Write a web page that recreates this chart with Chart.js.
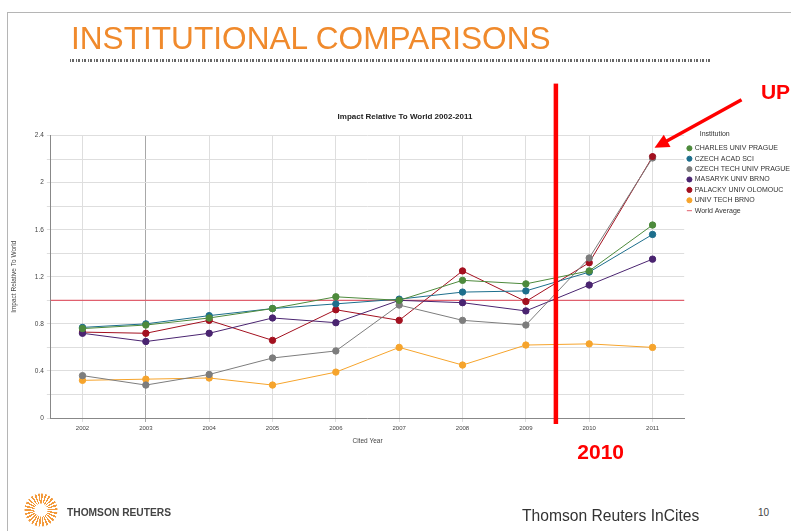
<!DOCTYPE html>
<html>
<head>
<meta charset="utf-8">
<script src="https://cdn.jsdelivr.net/npm/chart.js@4"></script>
<style>
  html, body { margin: 0; padding: 0; width: 791px; height: 531px; overflow: hidden; background: #fff; }
  #frame { position: absolute; left: 7px; top: 12px; width: 800px; height: 540px; border-left: 1px solid #b5b5b5; border-top: 1px solid #b5b5b5; }
  #heading { position: absolute; left: 71px; top: 21px; font-family: "Liberation Sans", Arial, sans-serif; font-size: 31px; color: #f08a2c; white-space: nowrap; transform-origin: left top; transform: scaleX(1.02); }
  #dots { position: absolute; left: 70px; top: 59px; width: 642px; height: 3px; background: repeating-linear-gradient(90deg, #666 0 1px, transparent 1px 2px, #666 2px 4px, transparent 4px 6px); }
  #wrap { position: absolute; left: 0; top: 0; width: 800px; height: 480px; }
  #logo { position: absolute; left: 24px; top: 493px; width: 34px; height: 34px; border-radius: 50%;
          background: repeating-conic-gradient(#f39a3c 0 7deg, transparent 7deg 14deg);
          -webkit-mask: radial-gradient(circle, transparent 0 6px, #000 7px 16px, transparent 17px);
          mask: radial-gradient(circle, transparent 0 6px, #000 7px 16px, transparent 17px); }
  #brand { position: absolute; left: 67px; top: 506px; font-family: "Liberation Sans", Arial, sans-serif; font-weight: bold; font-size: 11px; color: #444; transform-origin: left top; transform: scaleX(0.93); }
  #incites { position: absolute; left: 522px; top: 506px; font-family: "Liberation Sans", Arial, sans-serif; font-size: 17px; color: #333; transform-origin: left top; transform: scaleX(0.92); }
  #page { position: absolute; left: 758px; top: 507px; font-family: "Liberation Sans", Arial, sans-serif; font-size: 10px; color: #444; }
</style>
</head>
<body>
<div id="frame"></div>
<div id="heading">INSTITUTIONAL COMPARISONS</div>
<div id="dots"></div>
<div id="wrap"><canvas id="line-chart"></canvas></div>
<div id="logo"></div>
<div id="brand">THOMSON REUTERS</div>
<div id="incites">Thomson Reuters InCites</div>
<div id="page">10</div>
<script>
// Dati
var years = ['2002', '2003', '2004', '2005', '2006', '2007', '2008', '2009', '2010', '2011'];
var charlesUniv = [0.76, 0.79, 0.85, 0.93, 1.03, 1.00, 1.17, 1.14, 1.25, 1.64];
var czechAcad = [0.77, 0.80, 0.87, 0.93, 0.97, 1.01, 1.07, 1.08, 1.24, 1.56];
var czechTech = [0.36, 0.28, 0.37, 0.51, 0.57, 0.96, 0.83, 0.79, 1.36, 2.21];
var masaryk = [0.72, 0.65, 0.72, 0.85, 0.81, 1.00, 0.98, 0.91, 1.13, 1.35];
var palacky = [0.73, 0.72, 0.83, 0.66, 0.92, 0.83, 1.25, 0.99, 1.32, 2.22];
var brnoTech = [0.32, 0.33, 0.34, 0.28, 0.39, 0.60, 0.45, 0.62, 0.63, 0.60];
var worldAverage = 1;
var yTicks = [0, 0.4, 0.8, 1.2, 1.6, 2, 2.4];
var markYear = 7.47;   // posizione della barra rossa (tra 2009 e 2010)

var font = 'Liberation Sans';

function serie(label, data, colore) {
    return {
        label: label,
        data: data,
        borderColor: colore,
        backgroundColor: colore,
        pointBackgroundColor: colore,
        pointBorderColor: colore,
        pointRadius: 3.2,
        pointStyle: 'circle',
        borderWidth: 1,
        tension: 0
    };
}

// Linea media mondiale + annotazioni rosse
var extras = {
    id: 'extras',
    beforeDatasetsDraw: function (chart) {
        var ctx = chart.ctx, a = chart.chartArea;
        var y = chart.scales.y.getPixelForValue(worldAverage);
        ctx.save();
        ctx.strokeStyle = '#e0606e';
        ctx.lineWidth = 1.2;
        ctx.beginPath();
        ctx.moveTo(a.left, y);
        ctx.lineTo(a.right, y);
        ctx.stroke();
        ctx.restore();
    },
    afterDraw: function (chart) {
        var ctx = chart.ctx, a = chart.chartArea;
        var x = chart.scales.x.getPixelForValue(markYear);
        var last = years.length - 1;
        var px = chart.scales.x.getPixelForValue(last);
        var py = chart.scales.y.getPixelForValue(palacky[last]);
        ctx.save();
        // punto Palacky sopra quello grigio
        ctx.fillStyle = '#a3101f';
        ctx.beginPath();
        ctx.arc(px, py, 3.2, 0, Math.PI * 2);
        ctx.fill();
        ctx.fillStyle = '#ff0000';
        ctx.fillRect(x - 2, a.top - 52, 4.5, a.bottom - a.top + 58);
        ctx.font = 'bold 21px ' + font;
        ctx.textAlign = 'center';
        ctx.textBaseline = 'middle';
        ctx.fillText('2010', x + 45, a.bottom + 35);
        ctx.fillText('UP', px + 123, py - 64);
        // freccia
        var tx = px + 2, ty = py - 9, sx = px + 89, sy = py - 57;
        ctx.strokeStyle = '#ff0000';
        ctx.lineWidth = 3.5;
        ctx.beginPath();
        ctx.moveTo(sx, sy);
        ctx.lineTo(tx + 10, ty - 5.5);
        ctx.stroke();
        var ang = Math.atan2(ty - sy, tx - sx);
        ctx.beginPath();
        ctx.moveTo(tx, ty);
        ctx.lineTo(tx - 16 * Math.cos(ang - 0.45), ty - 16 * Math.sin(ang - 0.45));
        ctx.lineTo(tx - 16 * Math.cos(ang + 0.45), ty - 16 * Math.sin(ang + 0.45));
        ctx.closePath();
        ctx.fill();
        ctx.restore();
    }
};

var ctx = document.getElementById('line-chart');
var chart = new Chart(ctx, {
    type: 'line',
    data: {
        labels: years,
        datasets: [
            serie('CHARLES UNIV PRAGUE', charlesUniv, '#4d8a3c'),
            serie('CZECH ACAD SCI', czechAcad, '#1d6e8c'),
            serie('CZECH TECH UNIV PRAGUE', czechTech, '#7d7d7d'),
            serie('MASARYK UNIV BRNO', masaryk, '#4a2470'),
            serie('PALACKY UNIV OLOMOUC', palacky, '#a3101f'),
            serie('UNIV TECH BRNO', brnoTech, '#f6a42c'),
            {
                label: 'World Average',
                data: [],
                borderColor: '#e0606e',
                backgroundColor: '#e0606e',
                pointStyle: 'line',
                borderWidth: 1
            }
        ]
    },
    options: {
        responsive: true,
        maintainAspectRatio: false,
        animation: false,
        layout: { padding: { top: 112, left: 10, right: 0, bottom: 35 } },
        plugins: {
            tooltip: { enabled: false },
            title: {
                display: true,
                text: 'Impact Relative To World 2002-2011',
                color: '#222',
                font: { family: font, size: 8 },
                padding: { top: 0, bottom: 14 }
            },
            legend: {
                position: 'right',
                align: 'start',
                title: {
                    display: true,
                    text: '        Institution',
                    position: 'start',
                    color: '#333',
                    font: { family: font, size: 7 },
                    padding: { top: 19, bottom: 2 }
                },
                labels: {
                    usePointStyle: true,
                    boxWidth: 3.6,
                    boxHeight: 3.6,
                    padding: 3.4,
                    color: '#333',
                    font: { family: font, size: 7 }
                }
            }
        },
        scales: {
            x: {
                offset: true,
                grid: {
                    offset: false,
                    color: function (c) { return c.index === 1 ? '#a8a8a8' : '#dedede'; },
                    tickLength: 4
                },
                border: { color: '#888' },
                ticks: { color: '#444', font: { family: font, size: 6 }, maxRotation: 0 },
                title: { display: true, text: 'Cited Year', color: '#444', font: { family: font, size: 6.5 }, padding: { top: 2, bottom: 0 } }
            },
            y: {
                min: 0,
                max: 2.4,
                grid: { color: '#dedede', tickLength: 4 },
                border: { color: '#888' },
                ticks: {
                    stepSize: 0.2,
                    color: '#444',
                    font: { family: font, size: 6.5 },
                    callback: function (v) {
                        var r = Math.round(v * 10) / 10;
                        return yTicks.indexOf(r) >= 0 ? String(r) : '';
                    }
                },
                title: { display: true, text: 'Impact Relative To World', color: '#444', font: { family: font, size: 6.5 }, padding: { top: 0, bottom: 14 } }
            }
        }
    },
    plugins: [extras]
});
</script>
</body>
</html>
